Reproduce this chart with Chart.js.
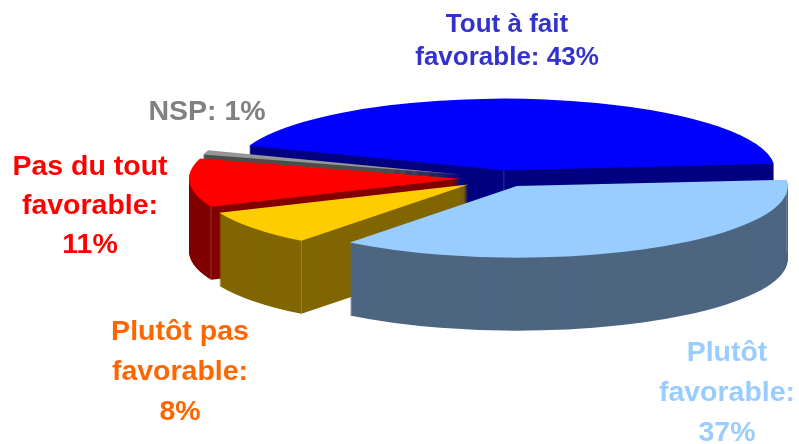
<!DOCTYPE html>
<html lang="fr">
<head>
    <meta charset="UTF-8">
    <title>Tout à fait favorable: 43%</title>
    <script src="https://cdn.jsdelivr.net/npm/chart.js"></script>
    <style>
        html, body { margin: 0; padding: 0; background: #fff; }
        #wrap { width: 799px; height: 444px; }
    </style>
</head>
<body>
    <div id="wrap"><canvas id="pieChart"></canvas></div>

    <script>
        const categories = ['Tout à fait favorable', 'Plutôt favorable', 'Plutôt pas favorable', 'Pas du tout favorable', 'NSP'];
        const values = [43, 37, 8, 11, 1];
        const explode = [30, 35, 40, 40, 39];
        const topColors = ['#0000ff', '#99ccff', '#ffcc00', '#ff0000', '#969696'];
        const sideColors = ['#000080', '#4d6680', '#806600', '#800000', '#4d4d4d'];

        // labels are split by hand, same line breaks as the original
        const labelLines = [
            ['Tout à fait', 'favorable: 43%'],
            ['Plutôt', 'favorable:', '37%'],
            ['Plutôt pas', 'favorable:', '8%'],
            ['Pas du tout', 'favorable:', '11%'],
            ['NSP: 1%']
        ];
        const labelColors = ['#3333cc', '#99ccff', '#ff6600', '#ff0000', '#808080'];
        const labelSize = [26, 28.5, 28.5, 28.5, 28.5];
        const labelX = [507, 727, 180, 90, 207];
        const labelY = [25, 353, 332, 167, 112];
        const labelStep = [33, 40, 40, 39, 0];

        const squash = 0.264;
        const depth = 73;

        function apexOf(el) {
            const mid = (el.startAngle + el.endAngle) / 2;
            const off = el.options.offset;
            return {
                x: el.x + off * Math.cos(mid),
                y: el.y + squash * off * Math.sin(mid),
                back: Math.sin(mid) < -0.5
            };
        }

        function slicePath(ctx, el, drop) {
            const a = apexOf(el);
            ctx.beginPath();
            ctx.moveTo(a.x, a.y + drop);
            ctx.ellipse(a.x, a.y + drop, el.outerRadius, el.outerRadius * squash, 0, el.startAngle, el.endAngle);
            ctx.closePath();
        }

        function seam(ctx, x, y) {
            ctx.beginPath();
            ctx.moveTo(x, y);
            ctx.lineTo(x, y + depth);
            ctx.stroke();
        }

        const pie3d = {
            id: 'pie3d',
            beforeDatasetsDraw(chart) {
                const ctx = chart.ctx;
                const arcs = chart.getDatasetMeta(0).data.map((el, i) => ({ el, i }));
                // back to front
                arcs.sort((a, b) => Math.sin((a.el.startAngle + a.el.endAngle) / 2) - Math.sin((b.el.startAngle + b.el.endAngle) / 2));

                ctx.save();
                arcs.forEach(({ el, i }) => {
                    ctx.fillStyle = sideColors[i];
                    for (let d = depth; d > 0; d--) {
                        slicePath(ctx, el, d);
                        ctx.fill();
                    }
                    const a = apexOf(el);
                    ctx.strokeStyle = 'rgba(255,255,255,0.2)';
                    ctx.lineWidth = 1;
                    if (a.back) seam(ctx, a.x, a.y);
                    seam(ctx, a.x + el.outerRadius * Math.cos(el.startAngle), a.y + el.outerRadius * squash * Math.sin(el.startAngle));

                    ctx.fillStyle = topColors[i];
                    slicePath(ctx, el, 0);
                    ctx.fill();
                });
                ctx.restore();
                return false;
            },
            afterDraw(chart) {
                const ctx = chart.ctx;
                ctx.save();
                ctx.textAlign = 'center';
                ctx.textBaseline = 'middle';
                labelLines.forEach((lines, i) => {
                    ctx.font = 'bold ' + labelSize[i] + 'px "Liberation Sans", Arial, sans-serif';
                    ctx.fillStyle = labelColors[i];
                    lines.forEach((line, n) => {
                        ctx.fillText(line, labelX[i], labelY[i] + n * labelStep[i]);
                    });
                });
                ctx.restore();
            }
        };

        new Chart(document.getElementById('pieChart'), {
            type: 'pie',
            data: {
                labels: categories,
                datasets: [{
                    data: values,
                    backgroundColor: topColors,
                    offset: explode,
                    borderWidth: 0
                }]
            },
            options: {
                responsive: true,
                maintainAspectRatio: false,
                animation: false,
                rotation: -70,
                radius: 271,
                layout: { padding: { left: 201, bottom: 88 } },
                plugins: {
                    legend: { display: false },
                    tooltip: { enabled: false }
                }
            },
            plugins: [pie3d]
        });
    </script>
</body>
</html>
